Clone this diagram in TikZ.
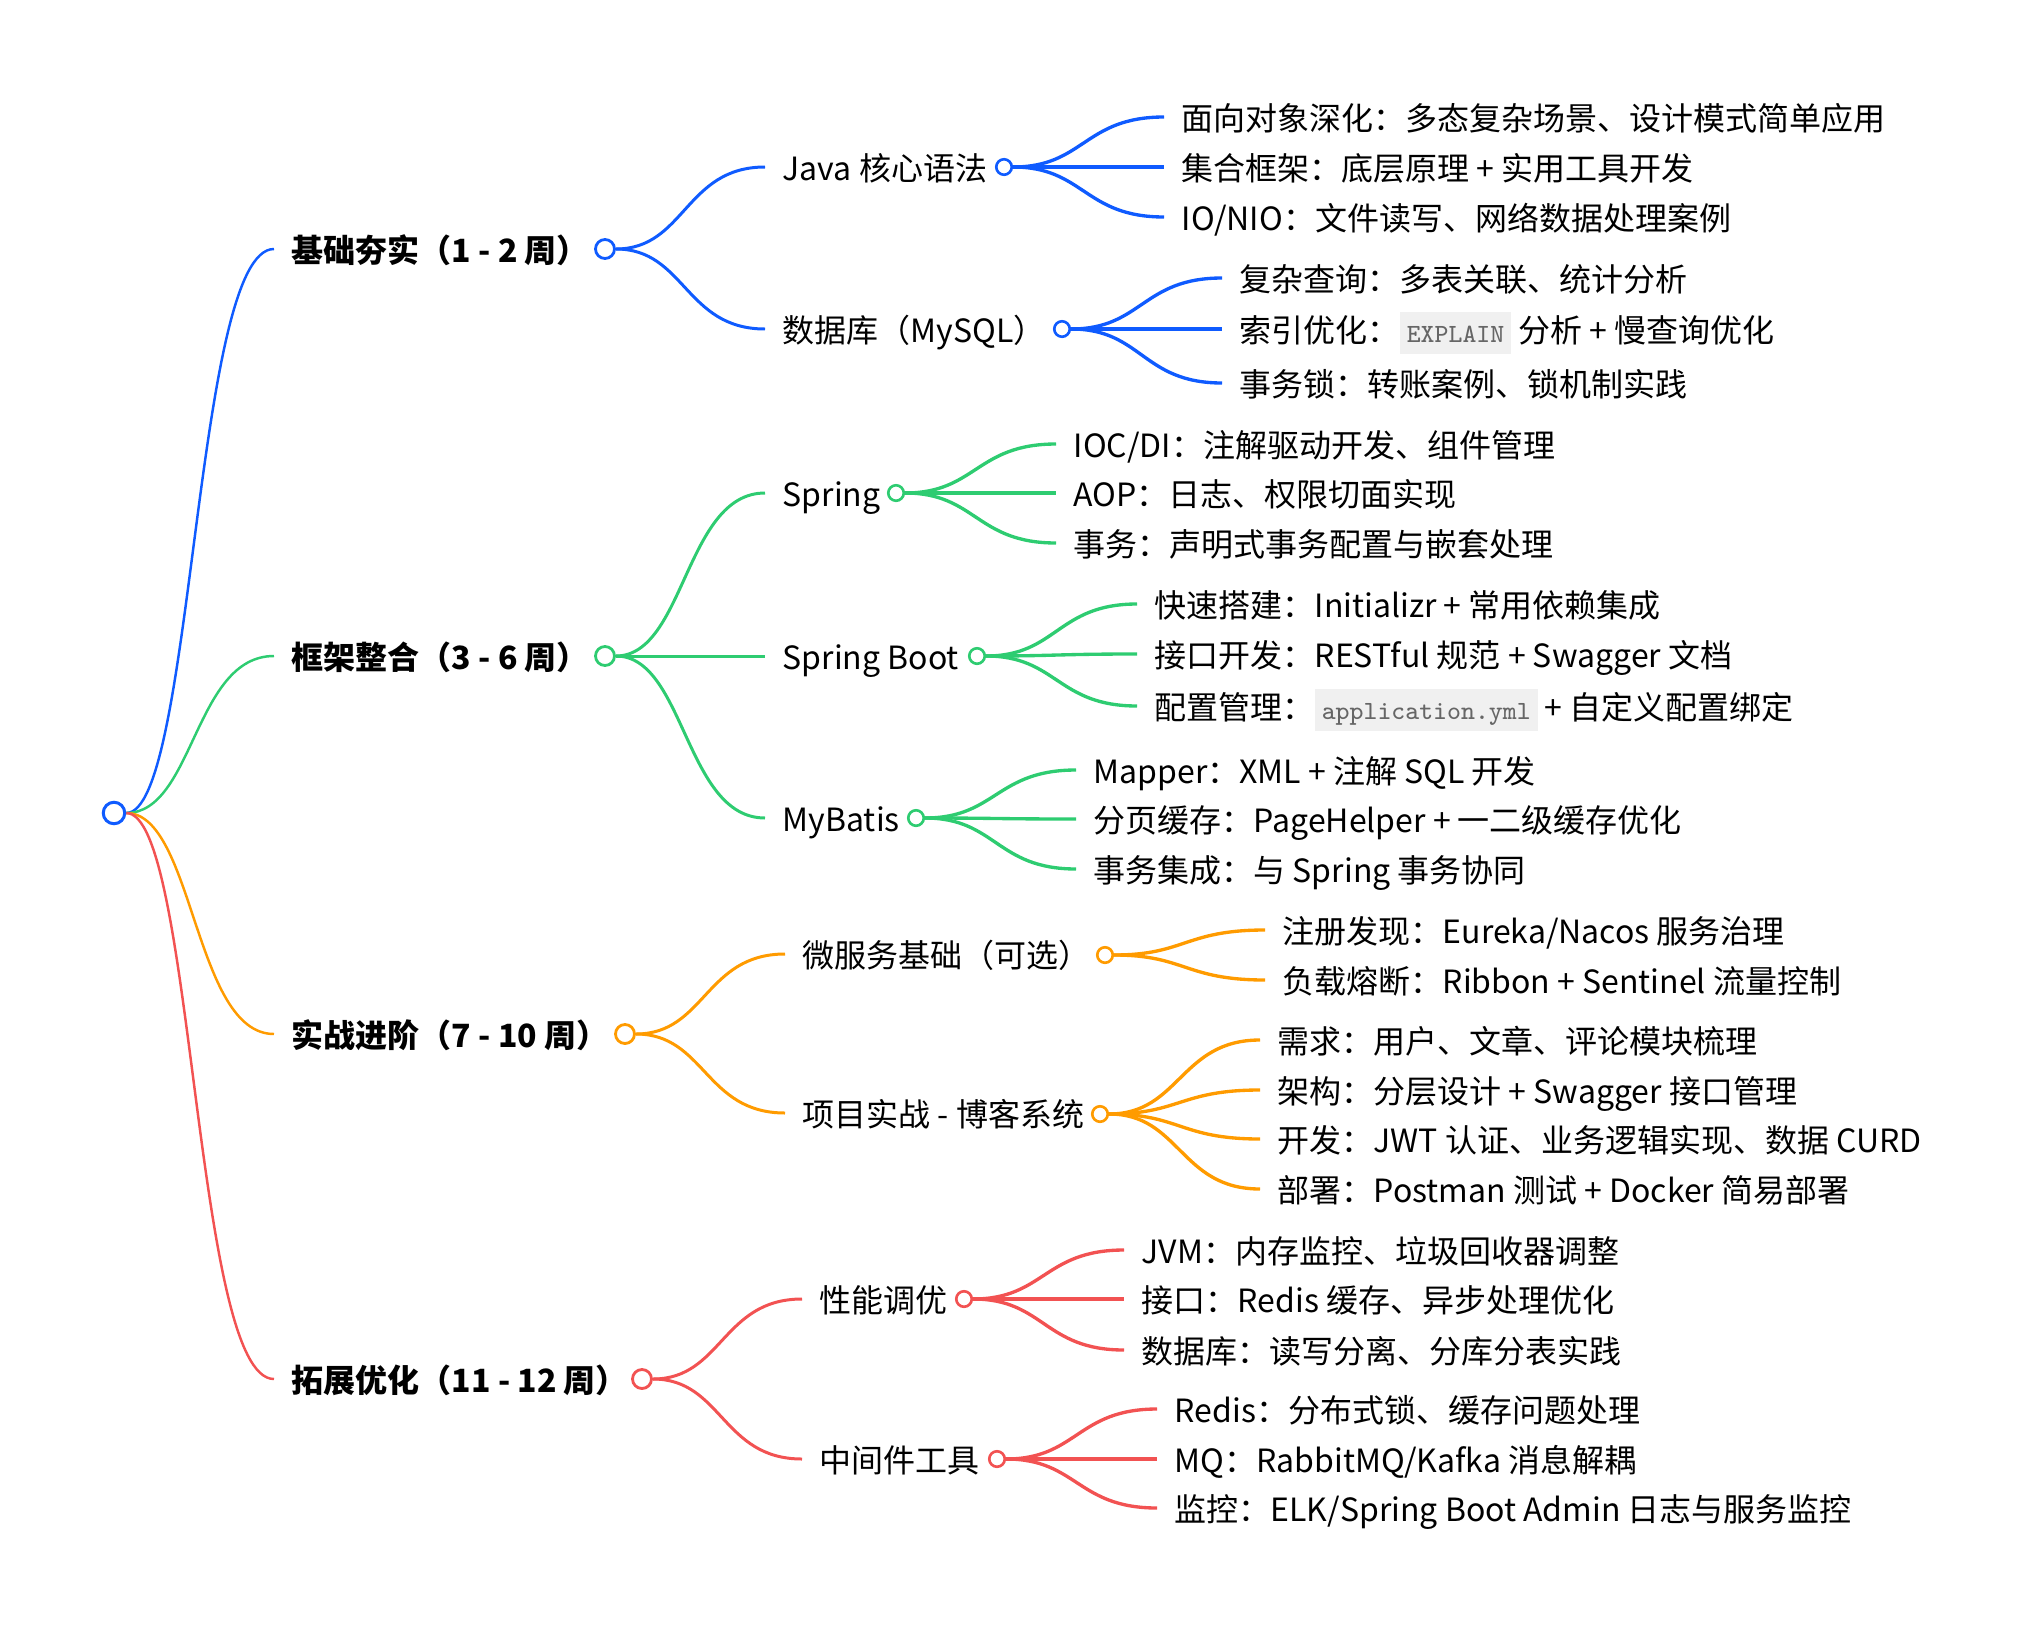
\documentclass[tikz,border=0pt]{standalone}
\usepackage{fontspec}
\setmainfont{Noto Sans CJK SC}
\newfontfamily\codefont{Latin Modern Mono}[Scale=0.82]
\usetikzlibrary{calc, backgrounds}

\definecolor{bluebranch}{HTML}{0F5BFF}
\definecolor{greenbranch}{HTML}{2ECC71}
\definecolor{orangebranch}{HTML}{FF9B00}
\definecolor{redbranch}{HTML}{F25252}
\definecolor{codebg}{HTML}{F0F0F0}
\definecolor{codefg}{HTML}{666666}

\newcommand{\code}[1]{{\setlength{\fboxsep}{0pt}\colorbox{codebg}{\hspace{2pt}\rule[-3.4pt]{0pt}{11.9pt}{\codefont\color{codefg}#1}\hspace{2pt}}}}

\tikzset{
    branch/.style={
        to path={let \p1=(\tikztostart), \p2=(\tikztotarget) in
            .. controls ({(\x1+\x2)/2},\y1) and ({(\x1+\x2)/2},\y2) .. (\tikztotarget)}
    }
}

\begin{document}
\begin{tikzpicture}[x=0.01cm, y=-0.01cm, font=\fontsize{9.1}{11}\selectfont]

    % Define styles
    \tikzstyle{topic} = [anchor=west, inner xsep=0.17cm, inner ysep=0, text height=8.7pt, text depth=1.2pt, font=\fontsize{9.1}{11}\selectfont\bfseries]
    \tikzstyle{subtopic} = [anchor=west, inner xsep=0.17cm, inner ysep=0, text height=8.7pt, text depth=1.2pt]
    \tikzstyle{detail} = [subtopic]
    \tikzstyle{bigdot} = [circle, draw, fill=white, line width=0.8pt, minimum size=0.19cm, inner sep=0]
    \tikzstyle{dot} = [circle, draw, fill=white, line width=0.75pt, minimum size=0.155cm, inner sep=0]
    \tikzstyle{rootlink} = [branch, line width=0.7pt]
    \tikzstyle{midlink} = [branch, line width=0.85pt]
    \tikzstyle{leaflink} = [branch, line width=0.95pt]

    \useasboundingbox (-1,-1) rectangle (2017,1623);

    % Root
    \node[bigdot, draw=bluebranch, minimum size=0.215cm, line width=0.85pt] (rootDot) at (113,812) {};

    % Phases
    \node[topic] (basics) at (273,248) {基础夯实（1 - 2 周）};
    \node[topic] (framework) at (273,655) {框架整合（3 - 6 周）};
    \node[topic] (practice) at (273,1033) {实战进阶（7 - 10 周）};
    \node[topic] (extend) at (273,1378) {拓展优化（11 - 12 周）};
    \node[bigdot, draw=bluebranch] (basicsDot) at (604,248) {};
    \node[bigdot, draw=greenbranch] (frameworkDot) at (604,655) {};
    \node[bigdot, draw=orangebranch] (practiceDot) at (624,1033) {};
    \node[bigdot, draw=redbranch] (extendDot) at (641,1378) {};

    % Topics
    \node[subtopic] (java) at (764,166) {Java 核心语法};
    \node[subtopic] (mysql) at (764,328) {数据库（MySQL）};
    \node[subtopic] (spring) at (764,492) {Spring};
    \node[subtopic] (boot) at (764,655) {Spring Boot};
    \node[subtopic] (mybatis) at (764,817) {MyBatis};
    \node[subtopic] (micro) at (784,953) {微服务基础（可选）};
    \node[subtopic] (blog) at (784,1112) {项目实战 - 博客系统};
    \node[subtopic] (perf) at (801,1298) {性能调优};
    \node[subtopic] (middle) at (801,1458) {中间件工具};
    \node[dot, draw=bluebranch] (javaDot) at (1003,166) {};
    \node[dot, draw=bluebranch] (mysqlDot) at (1061,328) {};
    \node[dot, draw=greenbranch] (springDot) at (895,492) {};
    \node[dot, draw=greenbranch] (bootDot) at (976,655) {};
    \node[dot, draw=greenbranch] (mybatisDot) at (915,817) {};
    \node[dot, draw=orangebranch] (microDot) at (1104,954) {};
    \node[dot, draw=orangebranch] (blogDot) at (1099,1113) {};
    \node[dot, draw=redbranch] (perfDot) at (963,1298) {};
    \node[dot, draw=redbranch] (middleDot) at (996,1458) {};

    % Details
    \node[detail] (oop) at (1163,116) {面向对象深化：多态复杂场景、设计模式简单应用};
    \node[detail] (collections) at (1163,166) {集合框架：底层原理 + 实用工具开发};
    \node[detail] (nio) at (1163,216) {IO/NIO：文件读写、网络数据处理案例};

    \node[detail] (query) at (1221,277) {复杂查询：多表关联、统计分析};
    \node[detail] (index) at (1221,328) {索引优化：\code{EXPLAIN} 分析 + 慢查询优化};
    \node[detail] (lock) at (1221,382) {事务锁：转账案例、锁机制实践};

    \node[detail] (ioc) at (1055,443) {IOC/DI：注解驱动开发、组件管理};
    \node[detail] (aop) at (1055,492) {AOP：日志、权限切面实现};
    \node[detail] (springTx) at (1055,542) {事务：声明式事务配置与嵌套处理};

    \node[detail] (starter) at (1136,603) {快速搭建：Initializr + 常用依赖集成};
    \node[detail] (rest) at (1136,653) {接口开发：RESTful 规范 + Swagger 文档};
    \node[detail] (config) at (1136,705) {配置管理：\code{application.yml} + 自定义配置绑定};

    \node[detail] (mapper) at (1075,769) {Mapper：XML + 注解 SQL 开发};
    \node[detail] (paging) at (1075,818) {分页缓存：PageHelper + 一二级缓存优化};
    \node[detail] (mybatisTx) at (1075,868) {事务集成：与 Spring 事务协同};

    \node[detail] (registry) at (1264,929) {注册发现：Eureka/Nacos 服务治理};
    \node[detail] (balance) at (1264,979) {负载熔断：Ribbon + Sentinel 流量控制};

    \node[detail] (needs) at (1259,1039) {需求：用户、文章、评论模块梳理};
    \node[detail] (arch) at (1259,1089) {架构：分层设计 + Swagger 接口管理};
    \node[detail] (dev) at (1259,1138) {开发：JWT 认证、业务逻辑实现、数据 CURD};
    \node[detail] (deploy) at (1259,1188) {部署：Postman 测试 + Docker 简易部署};

    \node[detail] (jvm) at (1123,1249) {JVM：内存监控、垃圾回收器调整};
    \node[detail] (api) at (1123,1298) {接口：Redis 缓存、异步处理优化};
    \node[detail] (db) at (1123,1349) {数据库：读写分离、分库分表实践};

    \node[detail] (redis) at (1156,1408) {Redis：分布式锁、缓存问题处理};
    \node[detail] (mq) at (1156,1458) {MQ：RabbitMQ/Kafka 消息解耦};
    \node[detail] (monitor) at (1156,1507) {监控：ELK/Spring Boot Admin 日志与服务监控};

    % Links
    \begin{scope}[on background layer]
        \draw[rootlink, bluebranch] (rootDot) to (basics.west);
        \draw[rootlink, greenbranch] (rootDot) to (framework.west);
        \draw[rootlink, orangebranch] (rootDot) to (practice.west);
        \draw[rootlink, redbranch] (rootDot) to (extend.west);

        \draw[midlink, bluebranch] (basicsDot) to (java.west);
        \draw[midlink, bluebranch] (basicsDot) to (mysql.west);
        \draw[midlink, greenbranch] (frameworkDot) to (spring.west);
        \draw[midlink, greenbranch] (frameworkDot) to (boot.west);
        \draw[midlink, greenbranch] (frameworkDot) to (mybatis.west);
        \draw[midlink, orangebranch] (practiceDot) to (micro.west);
        \draw[midlink, orangebranch] (practiceDot) to (blog.west);
        \draw[midlink, redbranch] (extendDot) to (perf.west);
        \draw[midlink, redbranch] (extendDot) to (middle.west);

        \draw[leaflink, bluebranch] (javaDot) to (oop.west);
        \draw[leaflink, bluebranch] (javaDot) to (collections.west);
        \draw[leaflink, bluebranch] (javaDot) to (nio.west);
        \draw[leaflink, bluebranch] (mysqlDot) to (query.west);
        \draw[leaflink, bluebranch] (mysqlDot) to (index.west);
        \draw[leaflink, bluebranch] (mysqlDot) to (lock.west);

        \draw[leaflink, greenbranch] (springDot) to (ioc.west);
        \draw[leaflink, greenbranch] (springDot) to (aop.west);
        \draw[leaflink, greenbranch] (springDot) to (springTx.west);
        \draw[leaflink, greenbranch] (bootDot) to (starter.west);
        \draw[leaflink, greenbranch] (bootDot) to (rest.west);
        \draw[leaflink, greenbranch] (bootDot) to (config.west);
        \draw[leaflink, greenbranch] (mybatisDot) to (mapper.west);
        \draw[leaflink, greenbranch] (mybatisDot) to (paging.west);
        \draw[leaflink, greenbranch] (mybatisDot) to (mybatisTx.west);

        \draw[leaflink, orangebranch] (microDot) to (registry.west);
        \draw[leaflink, orangebranch] (microDot) to (balance.west);
        \draw[leaflink, orangebranch] (blogDot) to (needs.west);
        \draw[leaflink, orangebranch] (blogDot) to (arch.west);
        \draw[leaflink, orangebranch] (blogDot) to (dev.west);
        \draw[leaflink, orangebranch] (blogDot) to (deploy.west);

        \draw[leaflink, redbranch] (perfDot) to (jvm.west);
        \draw[leaflink, redbranch] (perfDot) to (api.west);
        \draw[leaflink, redbranch] (perfDot) to (db.west);
        \draw[leaflink, redbranch] (middleDot) to (redis.west);
        \draw[leaflink, redbranch] (middleDot) to (mq.west);
        \draw[leaflink, redbranch] (middleDot) to (monitor.west);
    \end{scope}

\end{tikzpicture}
\end{document}
